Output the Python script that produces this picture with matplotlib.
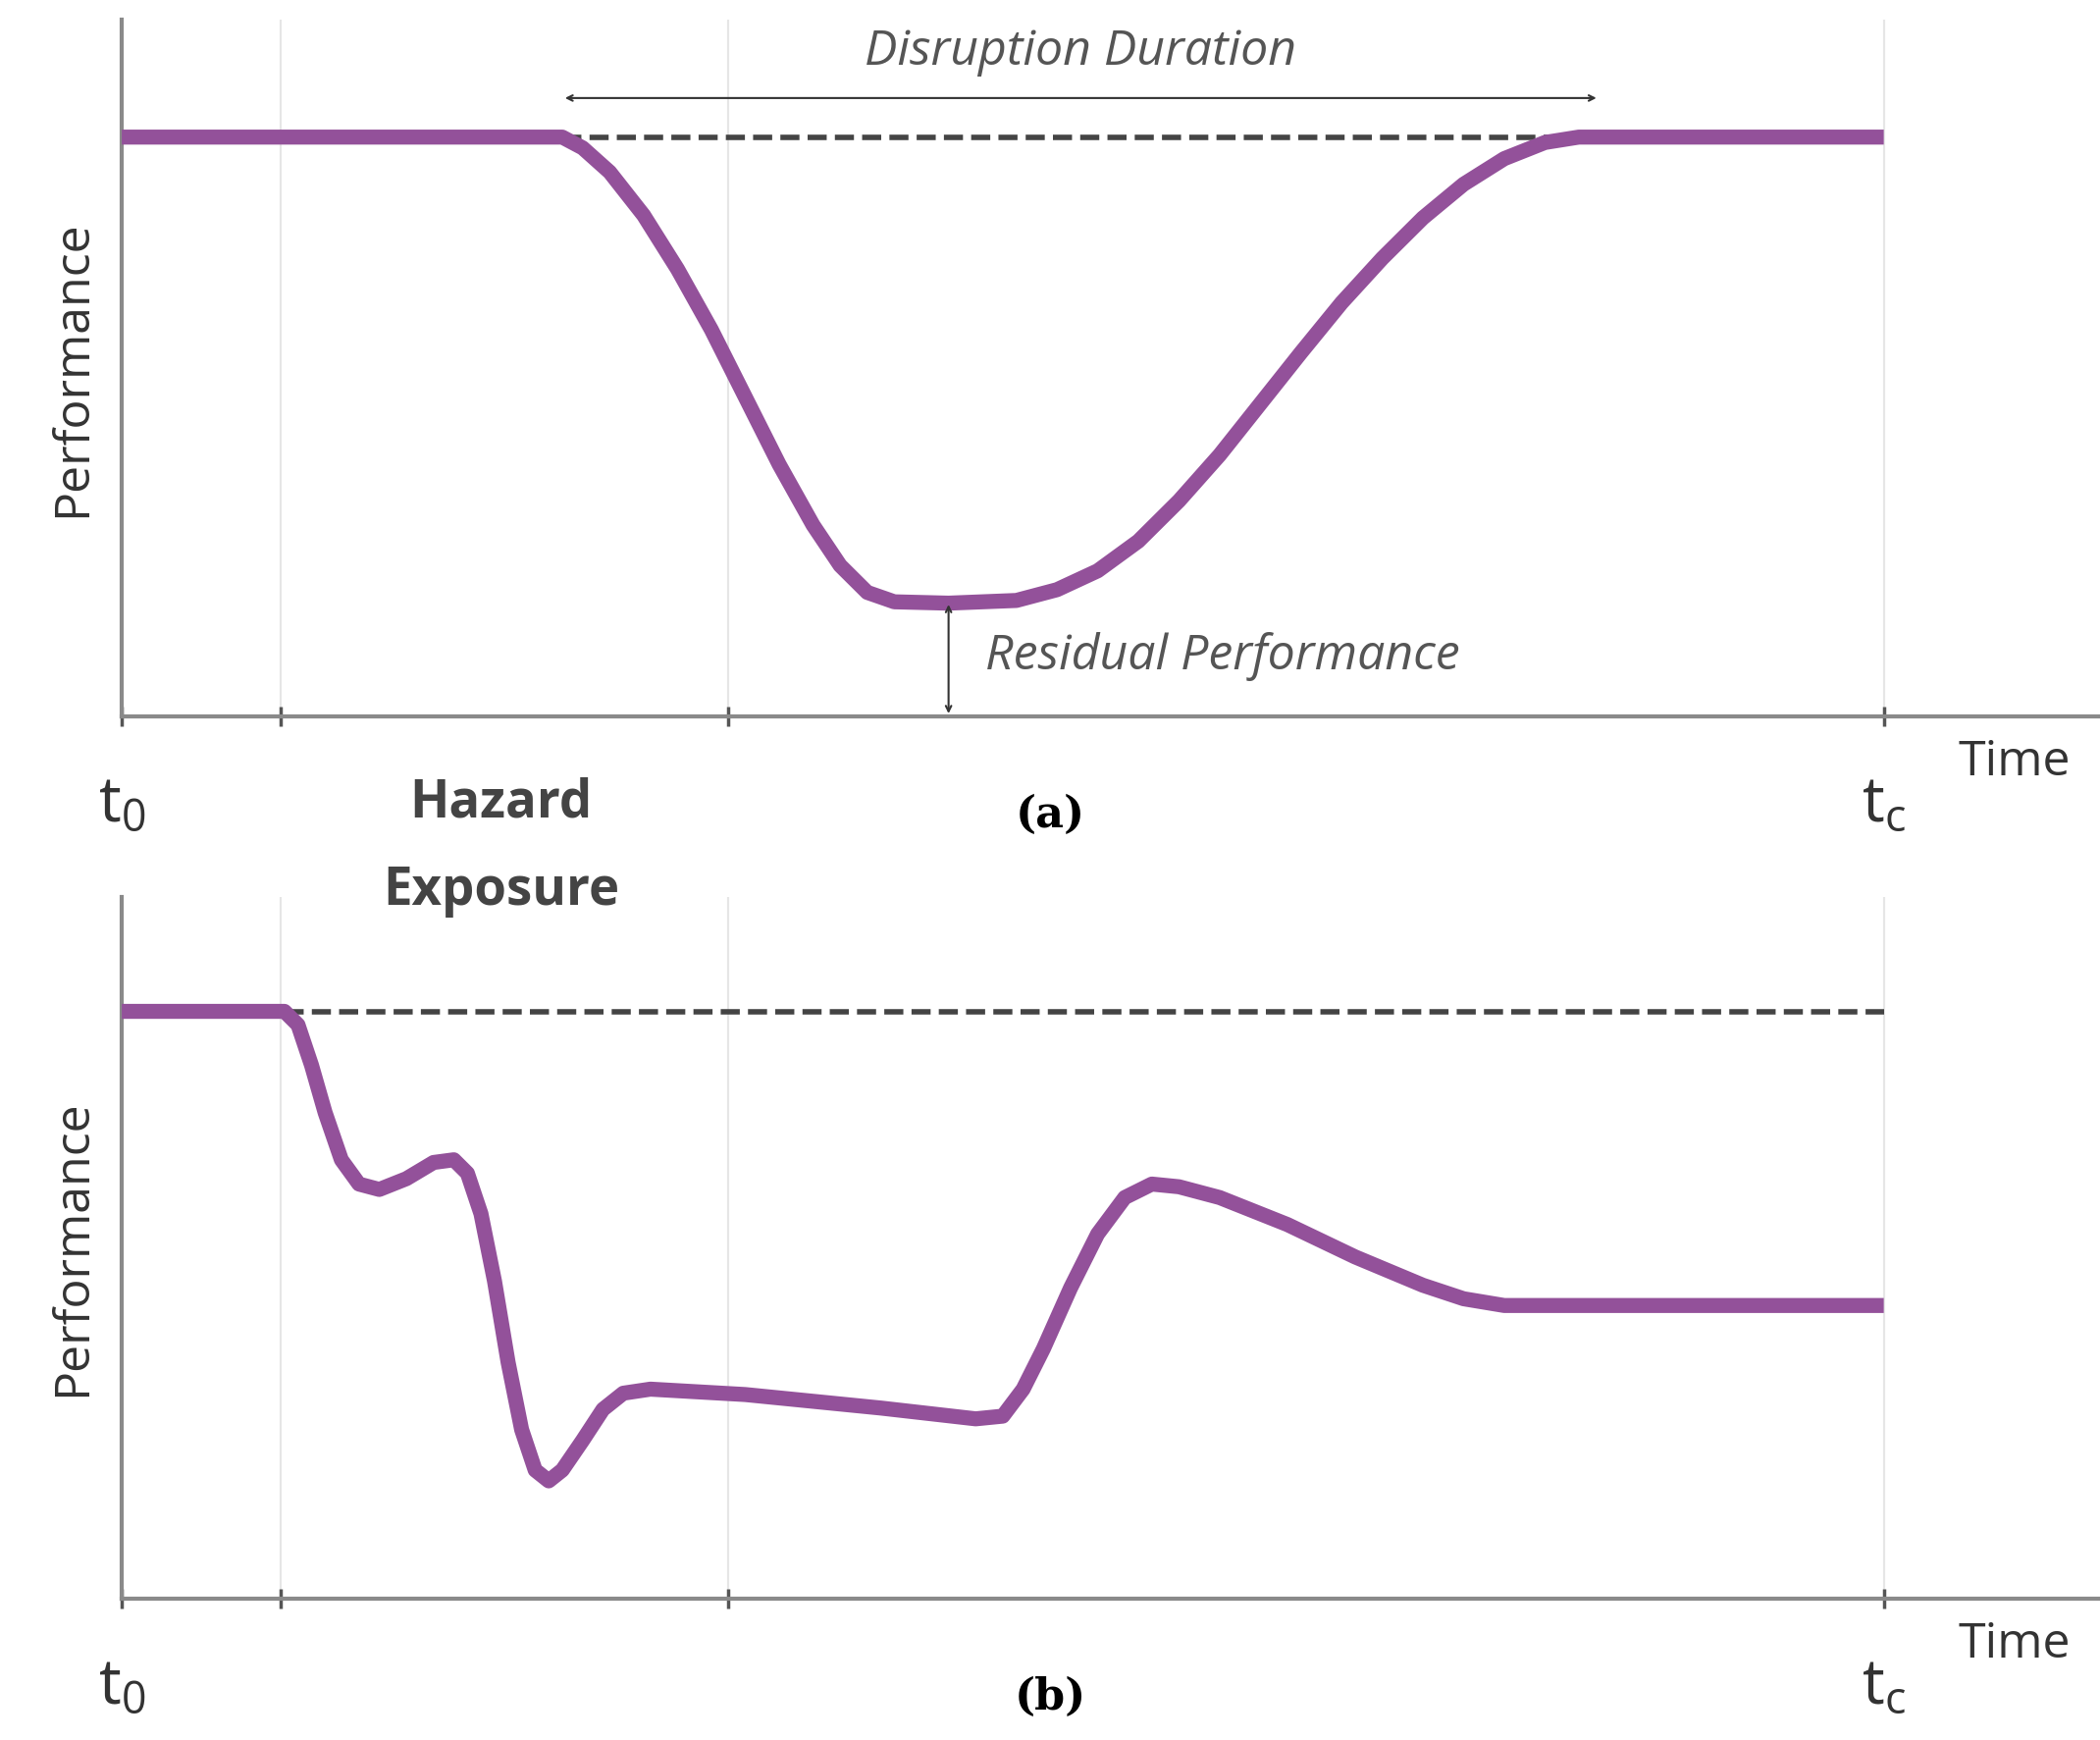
import matplotlib
matplotlib.use('Agg')
import matplotlib.pyplot as plt

# x in time units (t0 = 0, tc = 1300); y in performance units (baseline = 0)
XA = [0, 325, 340, 360, 385, 410, 435, 460, 485, 510, 530, 550, 570, 610, 660,
      690, 720, 750, 780, 810, 840, 870, 900, 930, 960, 990, 1020, 1050, 1075, 1300]
YA = [430, 430, 422, 404, 372, 332, 287, 237, 187, 142, 112, 92, 85, 84, 86,
      94, 108, 130, 160, 194, 232, 270, 307, 340, 370, 395, 414, 426, 430, 430]

XB = [0, 120, 130, 140, 150, 162, 175, 190, 210, 230, 245, 255, 265, 275, 285,
      295, 305, 315, 325, 340, 355, 370, 390, 460, 560, 630, 650, 665, 680, 700,
      720, 740, 760, 780, 810, 860, 910, 960, 990, 1020, 1300]
YB = [435, 435, 425, 395, 360, 325, 307, 303, 311, 323, 325, 315, 285, 235, 175,
      125, 95, 87, 95, 117, 140, 152, 155, 151, 141, 133, 135, 155, 185, 230,
      270, 297, 307, 305, 297, 277, 253, 232, 222, 217, 217]

NOMINAL = 430
NOMINAL_B = 435
GRID_X = [117, 447, 1300]
PURPLE = '#93519A'
GRAY = '#8a8a8a'

fig = plt.figure(figsize=(21.4, 17.74), dpi=100)
ax_a = fig.add_axes([0.058, 0.588, 0.941, 0.400])
ax_b = fig.add_axes([0.058, 0.0814, 0.941, 0.403])


def style(ax, ytop):
    ax.set_xlim(0, 1458)
    ax.set_ylim(0, ytop)
    for s in ['top', 'right']:
        ax.spines[s].set_visible(False)
    for s in ['left', 'bottom']:
        ax.spines[s].set_color(GRAY)
        ax.spines[s].set_linewidth(3)
    for gx in GRID_X:
        ax.axvline(gx, color='#e6e6e6', lw=1.5, zorder=0)
    ax.set_xticks([0] + GRID_X)
    ax.set_xticklabels([])
    ax.set_yticks([])
    ax.tick_params(axis='x', direction='inout', length=14, width=2.5, color='#555555')
    ax.set_ylabel('Performance', fontsize=36, family='Open Sans', color='#333333', labelpad=18)


style(ax_a, 517)
style(ax_b, 520)

ax_a.plot([325, 1075], [NOMINAL, NOMINAL], ls=(0, (3.5, 1.5)), color='#444444', lw=4, zorder=2)
ax_a.plot(XA, YA, color=PURPLE, lw=11, solid_capstyle='butt', solid_joinstyle='round', zorder=3)

ax_b.plot([120, 1300], [NOMINAL_B, NOMINAL_B], ls=(0, (3.5, 1.5)), color='#444444', lw=4, zorder=2)
ax_b.plot(XB, YB, color=PURPLE, lw=11, solid_capstyle='butt', solid_joinstyle='round', zorder=3)

# annotations panel (a)
ax_a.annotate('', xy=(325, 459), xytext=(1090, 459),
              arrowprops=dict(arrowstyle='<->', color='#333333', lw=1.5))
ax_a.text(707, 494, 'Disruption Duration', fontsize=36, style='italic',
          family='Open Sans', color='#555555', ha='center', va='center')
ax_a.annotate('', xy=(610, 85), xytext=(610, 0),
              arrowprops=dict(arrowstyle='<->', color='#333333', lw=1.5))
ax_a.text(637, 45, 'Residual Performance', fontsize=36, style='italic',
          family='Open Sans', color='#555555', ha='left', va='center')

for ax in (ax_a, ax_b):
    ax.text(0, -0.08, r'$\mathregular{t_0}$', transform=ax.get_xaxis_transform(),
            fontsize=46, family='Open Sans', color='#333333', ha='center', va='top')
    ax.text(1300, -0.08, r'$\mathregular{t_c}$', transform=ax.get_xaxis_transform(),
            fontsize=46, family='Open Sans', color='#333333', ha='center', va='top')
    ax.text(1355, -0.03, 'Time', transform=ax.get_xaxis_transform(),
            fontsize=36, family='Open Sans', color='#333333', ha='left', va='top')

ax_a.text(685, -0.11, '(a)', transform=ax_a.get_xaxis_transform(), fontsize=32,
          family='DejaVu Serif', fontweight='bold', ha='center', va='top')
ax_b.text(685, -0.11, '(b)', transform=ax_b.get_xaxis_transform(), fontsize=32,
          family='DejaVu Serif', fontweight='bold', ha='center', va='top')
fig.text(370 / 1550, 1 - 595 / 1290, 'Hazard', fontsize=38, fontweight='bold',
         family='Open Sans', color='#444444', ha='center', va='center')
fig.text(370 / 1550, 1 - 660 / 1290, 'Exposure', fontsize=38, fontweight='bold',
         family='Open Sans', color='#444444', ha='center', va='center')

fig.savefig('out.png', dpi=100)
